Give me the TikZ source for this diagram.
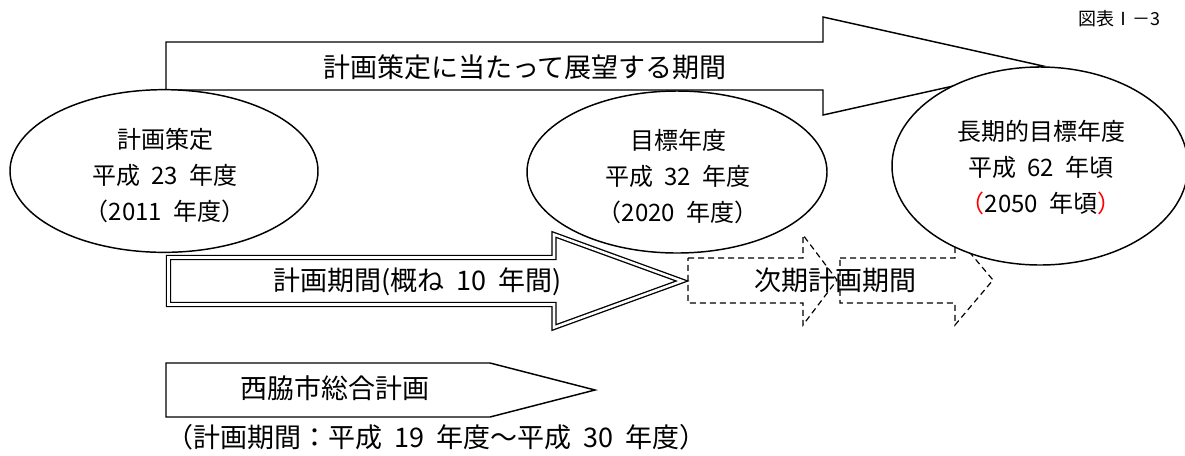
\documentclass[tikz,border=0pt]{standalone}
\usepackage{fontspec}
\setmainfont{Noto Sans CJK JP}
\usetikzlibrary{shapes.geometric}
\newcommand\hsp{\hspace{0.45em}}
\begin{document}
\begin{tikzpicture}[x=0.75pt,y=-0.75pt,
  line join=miter,
  shp/.style={draw=black,line width=1.1pt,fill=white},
  dsh/.style={draw=black,line width=0.9pt,dash pattern=on 4.5pt off 3pt},
  dbl/.style={draw=black,line width=1pt,double=white,double distance=1.9pt},
  elli/.style={ellipse,draw=black,line width=1.1pt,fill=white,inner sep=0pt},
  big/.style={font=\fontsize{20.25}{24}\selectfont,inner sep=0pt},
  mid/.style={font=\fontsize{18}{27}\selectfont,align=center,inner sep=0pt},
]
\useasboundingbox (0,0) rectangle (1185,455);

% long-term arrow
\draw[shp] (166,42) -- (823,42) -- (823,17) -- (1043,66) -- (823,115) -- (823,90) -- (166,90) -- cycle;

% next-period dashed arrows
\draw[dsh] (688,258) -- (803,258) -- (803,235) -- (837,280) -- (803,325) -- (803,303) -- (688,303) -- cycle;
\draw[dsh] (840,258) -- (955,258) -- (955,235) -- (993,280) -- (955,325) -- (955,303) -- (840,303) -- cycle;

% ellipses
\node[elli,minimum width=231pt,minimum height=122pt] (e1) at (164,171) {};
\node[elli,minimum width=225pt,minimum height=121.5pt] (e2) at (677,172) {};
\node[elli,minimum width=222pt,minimum height=148.5pt] (e3) at (1040,166) {};

\node[mid] (t1) at (165,176) {計画策定\\平成\hsp 23\hsp 年度\\（2011\hsp 年度）};
\node[mid] (t2) at (678,177) {目標年度\\平成\hsp 32\hsp 年度\\（2020\hsp 年度）};
\node[mid] (t3) at (1041,168) {長期的目標年度\\平成\hsp 62\hsp 年頃\\\textcolor{red}{（}2050\hsp 年頃\textcolor{red}{）}};

% plan period double arrow
\draw[dbl] (168.5,257.5) -- (554,257.5) -- (554,234.5) -- (682,281) -- (554,327.5) -- (554,304.5) -- (168.5,304.5) -- cycle;

% general plan arrow
\draw[shp] (166,363) -- (490,363) -- (595,390) -- (490,417) -- (166,417) -- cycle;

% texts
\node[big,anchor=west] (ttl) at (323,67) {計画策定に当たって展望する期間};
\node[big,anchor=west] (pp) at (273,282) {計画期間(概ね\hsp 10\hsp 年間)};
\node[big] (np) at (835,280) {次期計画期間};
\node[big,anchor=west] (gp) at (240,388) {西脇市総合計画};
\node[big,anchor=west] (gpp) at (166,437) {（計画期間：平成\hsp 19\hsp 年度～平成\hsp 30\hsp 年度）};
\node[font=\fontsize{13.5}{16}\selectfont,anchor=west,inner sep=0pt] (fig) at (1078,19) {図表Ⅰ－3};
\end{tikzpicture}
\end{document}
